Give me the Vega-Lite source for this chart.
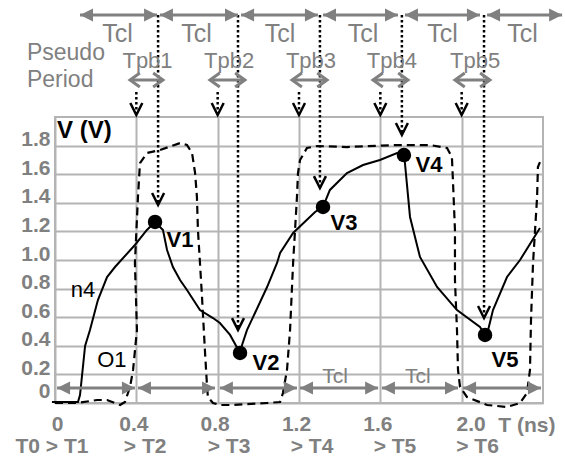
{
  "$schema": "https://vega.github.io/schema/vega-lite/v6.json",
  "width": 488,
  "height": 286,
  "autosize": {"type": "none"},
  "padding": {"left": 55, "top": 117, "right": 22, "bottom": 57},
  "background": "white",
  "config": {
    "view": {"stroke": "#b4b4b4", "strokeWidth": 2},
    "font": "Liberation Sans",
    "text": {"font": "Liberation Sans", "baseline": "alphabetic"}
  },
  "datasets": {
    "n4": [
      {"i": 1, "x": -0.015, "y": 0.007}, {"i": 2, "x": 0.113, "y": 0.007}, {"i": 3, "x": 0.123, "y": 0.056},
      {"i": 4, "x": 0.148, "y": 0.399}, {"i": 5, "x": 0.172, "y": 0.51}, {"i": 6, "x": 0.211, "y": 0.72},
      {"i": 7, "x": 0.256, "y": 0.881}, {"i": 8, "x": 0.295, "y": 0.951}, {"i": 9, "x": 0.393, "y": 1.105},
      {"i": 10, "x": 0.452, "y": 1.21}, {"i": 11, "x": 0.492, "y": 1.266}, {"i": 12, "x": 0.531, "y": 1.21},
      {"i": 13, "x": 0.551, "y": 1.07}, {"i": 14, "x": 0.58, "y": 0.951}, {"i": 15, "x": 0.615, "y": 0.86},
      {"i": 16, "x": 0.649, "y": 0.79}, {"i": 17, "x": 0.713, "y": 0.65}, {"i": 18, "x": 0.777, "y": 0.594},
      {"i": 19, "x": 0.811, "y": 0.559}, {"i": 20, "x": 0.861, "y": 0.476}, {"i": 21, "x": 0.91, "y": 0.35},
      {"i": 22, "x": 0.92, "y": 0.406}, {"i": 23, "x": 0.944, "y": 0.51}, {"i": 24, "x": 0.974, "y": 0.601},
      {"i": 25, "x": 1.043, "y": 0.811}, {"i": 26, "x": 1.092, "y": 0.979}, {"i": 27, "x": 1.107, "y": 1.049},
      {"i": 28, "x": 1.171, "y": 1.189}, {"i": 29, "x": 1.279, "y": 1.336}, {"i": 30, "x": 1.318, "y": 1.371},
      {"i": 31, "x": 1.352, "y": 1.49}, {"i": 32, "x": 1.436, "y": 1.608}, {"i": 33, "x": 1.515, "y": 1.664},
      {"i": 34, "x": 1.598, "y": 1.699}, {"i": 35, "x": 1.682, "y": 1.748}, {"i": 36, "x": 1.716, "y": 1.734},
      {"i": 37, "x": 1.721, "y": 1.678}, {"i": 38, "x": 1.746, "y": 1.301}, {"i": 39, "x": 1.795, "y": 1.021},
      {"i": 40, "x": 1.879, "y": 0.811}, {"i": 41, "x": 1.977, "y": 0.65}, {"i": 42, "x": 2.09, "y": 0.531},
      {"i": 43, "x": 2.115, "y": 0.476}, {"i": 44, "x": 2.13, "y": 0.51}, {"i": 45, "x": 2.154, "y": 0.65},
      {"i": 46, "x": 2.223, "y": 0.881}, {"i": 47, "x": 2.287, "y": 1.0}, {"i": 48, "x": 2.385, "y": 1.224}
    ],
    "o1": [
      {"i": 1, "x": 0.0, "y": 0.0}, {"i": 2, "x": 0.108, "y": 0.0}, {"i": 3, "x": 0.207, "y": 0.021},
      {"i": 4, "x": 0.256, "y": 0.021}, {"i": 5, "x": 0.32, "y": -0.014}, {"i": 6, "x": 0.344, "y": 0.007},
      {"i": 7, "x": 0.369, "y": 0.112}, {"i": 8, "x": 0.384, "y": 0.231}, {"i": 9, "x": 0.403, "y": 0.51},
      {"i": 10, "x": 0.393, "y": 0.979}, {"i": 11, "x": 0.408, "y": 1.441}, {"i": 12, "x": 0.418, "y": 1.678},
      {"i": 13, "x": 0.452, "y": 1.748}, {"i": 14, "x": 0.516, "y": 1.769}, {"i": 15, "x": 0.615, "y": 1.818},
      {"i": 16, "x": 0.649, "y": 1.804}, {"i": 17, "x": 0.674, "y": 1.748}, {"i": 18, "x": 0.689, "y": 1.608},
      {"i": 19, "x": 0.698, "y": 1.441}, {"i": 20, "x": 0.703, "y": 1.21}, {"i": 21, "x": 0.713, "y": 0.979},
      {"i": 22, "x": 0.723, "y": 0.741}, {"i": 23, "x": 0.738, "y": 0.35}, {"i": 24, "x": 0.748, "y": 0.112},
      {"i": 25, "x": 0.752, "y": 0.042}, {"i": 26, "x": 0.777, "y": 0.0}, {"i": 27, "x": 0.811, "y": -0.014},
      {"i": 28, "x": 0.875, "y": -0.014}, {"i": 29, "x": 1.043, "y": 0.0}, {"i": 30, "x": 1.107, "y": 0.007},
      {"i": 31, "x": 1.121, "y": 0.07}, {"i": 32, "x": 1.141, "y": 0.231}, {"i": 33, "x": 1.156, "y": 0.51},
      {"i": 34, "x": 1.171, "y": 0.979}, {"i": 35, "x": 1.19, "y": 1.441}, {"i": 36, "x": 1.195, "y": 1.608},
      {"i": 37, "x": 1.205, "y": 1.699}, {"i": 38, "x": 1.239, "y": 1.783}, {"i": 39, "x": 1.289, "y": 1.797},
      {"i": 40, "x": 1.436, "y": 1.79}, {"i": 41, "x": 1.682, "y": 1.804}, {"i": 42, "x": 1.844, "y": 1.804},
      {"i": 43, "x": 1.928, "y": 1.783}, {"i": 44, "x": 1.952, "y": 1.72}, {"i": 45, "x": 1.957, "y": 1.559},
      {"i": 46, "x": 1.967, "y": 1.21}, {"i": 47, "x": 1.967, "y": 0.86}, {"i": 48, "x": 1.977, "y": 0.51},
      {"i": 49, "x": 1.982, "y": 0.231}, {"i": 50, "x": 1.992, "y": 0.112}, {"i": 51, "x": 2.026, "y": 0.042},
      {"i": 52, "x": 2.125, "y": -0.014}, {"i": 53, "x": 2.223, "y": -0.028}, {"i": 54, "x": 2.287, "y": 0.0},
      {"i": 55, "x": 2.321, "y": 0.07}, {"i": 56, "x": 2.336, "y": 0.231}, {"i": 57, "x": 2.341, "y": 0.58},
      {"i": 58, "x": 2.351, "y": 0.979}, {"i": 59, "x": 2.371, "y": 1.441}, {"i": 60, "x": 2.375, "y": 1.65},
      {"i": 61, "x": 2.385, "y": 1.685}
    ],
    "peaks": [
      {"x": 0.492, "y": 1.266}, {"x": 0.91, "y": 0.35}, {"x": 1.318, "y": 1.371},
      {"x": 1.716, "y": 1.734}, {"x": 2.115, "y": 0.476}
    ],
    "tclTop": [
      {"a": 0.123, "b": 0.502, "y": 2.713}, {"a": 0.516, "b": 0.9, "y": 2.713}, {"a": 0.915, "b": 1.293, "y": 2.713},
      {"a": 1.318, "b": 1.687, "y": 2.713}, {"a": 1.721, "b": 2.09, "y": 2.713}, {"a": 2.125, "b": 2.494, "y": 2.713}
    ],
    "tclBottom": [
      {"a": 0.01, "b": 0.393, "y": 0.105}, {"a": 0.408, "b": 0.787, "y": 0.105}, {"a": 0.811, "b": 1.19, "y": 0.105},
      {"a": 1.205, "b": 1.589, "y": 0.105}, {"a": 1.608, "b": 1.982, "y": 0.105}, {"a": 2.007, "b": 2.39, "y": 0.105}
    ],
    "tpb": [
      {"a": 0.369, "b": 0.531, "y": 2.259}, {"a": 0.762, "b": 0.934, "y": 2.259}, {"a": 1.166, "b": 1.338, "y": 2.259},
      {"a": 1.564, "b": 1.736, "y": 2.259}, {"a": 1.967, "b": 2.139, "y": 2.259}
    ],
    "probe": [
      {"x": 0.507, "top": 2.713, "tip": 1.385}, {"x": 0.9, "top": 2.713, "tip": 0.51},
      {"x": 1.303, "top": 2.713, "tip": 1.503}, {"x": 1.706, "top": 2.713, "tip": 1.874},
      {"x": 2.11, "top": 2.713, "tip": 0.594}
    ],
    "pseudoMark": [
      {"x": 0.4, "top": 2.175, "tip": 2.014}, {"x": 0.8, "top": 2.175, "tip": 2.014},
      {"x": 1.2, "top": 2.175, "tip": 2.014}, {"x": 1.6, "top": 2.175, "tip": 2.014},
      {"x": 2.0, "top": 2.175, "tip": 2.014}
    ],
    "labels": [
      {"kind": "tcl", "x": 0.307, "y": 2.524, "text": "Tcl"}, {"kind": "tcl", "x": 0.696, "y": 2.524, "text": "Tcl"},
      {"kind": "tcl", "x": 1.107, "y": 2.524, "text": "Tcl"}, {"kind": "tcl", "x": 1.515, "y": 2.524, "text": "Tcl"},
      {"kind": "tcl", "x": 1.906, "y": 2.524, "text": "Tcl"}, {"kind": "tcl", "x": 2.299, "y": 2.524, "text": "Tcl"},
      {"kind": "tpb", "x": 0.455, "y": 2.343, "text": "Tpb1"}, {"kind": "tpb", "x": 0.856, "y": 2.343, "text": "Tpb2"},
      {"kind": "tpb", "x": 1.259, "y": 2.343, "text": "Tpb3"}, {"kind": "tpb", "x": 1.657, "y": 2.343, "text": "Tpb4"},
      {"kind": "tpb", "x": 2.066, "y": 2.343, "text": "Tpb5"},
      {"kind": "tclLow", "x": 1.377, "y": 0.14, "text": "Tcl"}, {"kind": "tclLow", "x": 1.785, "y": 0.14, "text": "Tcl"},
      {"kind": "pseudo", "x": -0.138, "y": 2.399, "text": "Pseudo"}, {"kind": "pseudo", "x": -0.138, "y": 2.21, "text": "Period"},
      {"kind": "curve", "x": 0.138, "y": 0.741, "text": "n4"}, {"kind": "curve", "x": 0.28, "y": 0.252, "text": "O1"},
      {"kind": "peak", "x": 0.615, "y": 1.091, "text": "V1"}, {"kind": "peak", "x": 1.038, "y": 0.231, "text": "V2"},
      {"kind": "peak", "x": 1.421, "y": 1.21, "text": "V3"}, {"kind": "peak", "x": 1.839, "y": 1.615, "text": "V4"},
      {"kind": "peak", "x": 2.213, "y": 0.252, "text": "V5"},
      {"kind": "title", "x": 0.01, "y": 1.853, "text": "V (V)"},
      {"kind": "xlab", "x": -0.015, "y": -0.35, "text": "T0 > T1"}, {"kind": "xlab", "x": 0.443, "y": -0.35, "text": "> T2"},
      {"kind": "xlab", "x": 0.856, "y": -0.35, "text": "> T3"}, {"kind": "xlab", "x": 1.264, "y": -0.35, "text": "> T4"},
      {"kind": "xlab", "x": 1.672, "y": -0.35, "text": "> T5"}, {"kind": "xlab", "x": 2.078, "y": -0.35, "text": "> T6"},
      {"kind": "xlab", "x": 2.321, "y": -0.203, "text": "T (ns)"}
    ]
  },
  "layer": [
    {
      "data": {"name": "o1"},
      "mark": {"type": "line", "color": "black", "strokeWidth": 2.2, "strokeDash": [8, 5], "clip": false, "interpolate": "linear"},
      "encoding": {
        "x": {"field": "x", "type": "quantitative",
          "scale": {"domain": [0, 2.4], "nice": false, "zero": false},
          "axis": {"values": [0, 0.4, 0.8, 1.2, 1.6, 2.0], "title": null, "grid": true, "gridColor": "#b4b4b4", "gridWidth": 2,
            "domain": false, "ticks": false, "labelPadding": 10, "labelFont": "Liberation Sans", "labelFontSize": 21,
            "labelFontWeight": "bold", "labelColor": "#808080", "labelFlush": false, "labelOverlap": false,
            "labelExpr": "datum.value == 0 ? '0' : format(datum.value, '.1f')",
            "labelOffset": {"condition": [{"test": "datum.value == 0", "value": 2}, {"test": "datum.value == 2", "value": 9}], "value": -3}}},
        "y": {"field": "y", "type": "quantitative",
          "scale": {"domain": [0, 2.0], "nice": false, "zero": false}},
        "order": {"field": "i", "type": "quantitative"}
      }
    },
    {
      "data": {"name": "n4"},
      "mark": {"type": "line", "color": "black", "strokeWidth": 2, "clip": false},
      "encoding": {
        "x": {"field": "x", "type": "quantitative"},
        "y": {"field": "y", "type": "quantitative",
          "axis": {"values": [0, 0.2, 0.4, 0.6, 0.8, 1, 1.2, 1.4, 1.6, 1.8], "tickCount": 10, "title": null, "grid": true, "gridColor": "#b4b4b4", "gridWidth": 2,
            "domain": false, "ticks": false, "labelPadding": 5, "labelFont": "Liberation Sans", "labelFontSize": 21,
            "labelFontWeight": "bold", "labelColor": "#808080", "labelFlush": false, "labelOverlap": false,
            "labelExpr": "datum.value == 0 ? '0' : format(datum.value, '.1f')",
            "labelOffset": -6,
            "labelBaseline": {"condition": {"test": "datum.value == 0", "value": "alphabetic"}, "value": "middle"}}},
        "order": {"field": "i", "type": "quantitative"}
      }
    },
    {
      "data": {"name": "probe"},
      "mark": {"type": "rule", "color": "black", "strokeWidth": 2.5, "strokeDash": [2.5, 2.5], "clip": false},
      "encoding": {
        "x": {"field": "x", "type": "quantitative"},
        "y": {"field": "top", "type": "quantitative"},
        "y2": {"field": "tip"}
      }
    },
    {
      "data": {"name": "probe"},
      "mark": {"type": "point", "shape": "M-1,-2L0,0L1,-2", "filled": false, "color": "black", "strokeWidth": 2.5, "size": 144, "opacity": 1, "clip": false},
      "encoding": {
        "x": {"field": "x", "type": "quantitative"},
        "y": {"field": "tip", "type": "quantitative"}
      }
    },
    {
      "data": {"name": "pseudoMark"},
      "mark": {"type": "rule", "color": "black", "strokeWidth": 2.5, "strokeDash": [2.5, 2.5], "clip": false},
      "encoding": {
        "x": {"field": "x", "type": "quantitative"},
        "y": {"field": "top", "type": "quantitative"},
        "y2": {"field": "tip"}
      }
    },
    {
      "data": {"name": "pseudoMark"},
      "mark": {"type": "point", "shape": "M-1,-2L0,0L1,-2", "filled": false, "color": "black", "strokeWidth": 2.5, "size": 144, "opacity": 1, "clip": false},
      "encoding": {
        "x": {"field": "x", "type": "quantitative"},
        "y": {"field": "tip", "type": "quantitative"}
      }
    },
    {
      "data": {"name": "tclTop"},
      "mark": {"type": "rule", "color": "#808080", "strokeWidth": 3, "clip": false},
      "encoding": {
        "x": {"field": "a", "type": "quantitative"},
        "x2": {"field": "b"},
        "y": {"field": "y", "type": "quantitative"}
      }
    },
    {
      "data": {"name": "tclTop"},
      "mark": {"type": "point", "shape": "M0,0L1,-0.5L1,0.5Z", "filled": true, "color": "#808080", "size": 676, "opacity": 1, "clip": false},
      "encoding": {
        "x": {"field": "a", "type": "quantitative"},
        "y": {"field": "y", "type": "quantitative"}
      }
    },
    {
      "data": {"name": "tclTop"},
      "mark": {"type": "point", "shape": "M0,0L-1,-0.5L-1,0.5Z", "filled": true, "color": "#808080", "size": 676, "opacity": 1, "clip": false},
      "encoding": {
        "x": {"field": "b", "type": "quantitative"},
        "y": {"field": "y", "type": "quantitative"}
      }
    },
    {
      "data": {"name": "tclBottom"},
      "mark": {"type": "rule", "color": "#808080", "strokeWidth": 3, "clip": false},
      "encoding": {
        "x": {"field": "a", "type": "quantitative"},
        "x2": {"field": "b"},
        "y": {"field": "y", "type": "quantitative"}
      }
    },
    {
      "data": {"name": "tclBottom"},
      "mark": {"type": "point", "shape": "M0,0L1,-0.5L1,0.5Z", "filled": true, "color": "#808080", "size": 676, "opacity": 1, "clip": false},
      "encoding": {
        "x": {"field": "a", "type": "quantitative"},
        "y": {"field": "y", "type": "quantitative"}
      }
    },
    {
      "data": {"name": "tclBottom"},
      "mark": {"type": "point", "shape": "M0,0L-1,-0.5L-1,0.5Z", "filled": true, "color": "#808080", "size": 676, "opacity": 1, "clip": false},
      "encoding": {
        "x": {"field": "b", "type": "quantitative"},
        "y": {"field": "y", "type": "quantitative"}
      }
    },
    {
      "data": {"name": "tpb"},
      "mark": {"type": "rule", "color": "#808080", "strokeWidth": 3, "clip": false},
      "encoding": {
        "x": {"field": "a", "type": "quantitative"},
        "x2": {"field": "b"},
        "y": {"field": "y", "type": "quantitative"}
      }
    },
    {
      "data": {"name": "tpb"},
      "mark": {"type": "point", "shape": "M1.4,-1L0,0L1.4,1", "filled": false, "color": "#808080", "strokeWidth": 3, "size": 196, "opacity": 1, "clip": false},
      "encoding": {
        "x": {"field": "a", "type": "quantitative"},
        "y": {"field": "y", "type": "quantitative"}
      }
    },
    {
      "data": {"name": "tpb"},
      "mark": {"type": "point", "shape": "M-1.4,-1L0,0L-1.4,1", "filled": false, "color": "#808080", "strokeWidth": 3, "size": 196, "opacity": 1, "clip": false},
      "encoding": {
        "x": {"field": "b", "type": "quantitative"},
        "y": {"field": "y", "type": "quantitative"}
      }
    },
    {
      "data": {"name": "peaks"},
      "mark": {"type": "circle", "color": "black", "size": 210, "opacity": 1, "clip": false},
      "encoding": {
        "x": {"field": "x", "type": "quantitative"},
        "y": {"field": "y", "type": "quantitative"}
      }
    },
    {
      "data": {"name": "labels"},
      "transform": [{"filter": "datum.kind == 'tcl'"}],
      "mark": {"type": "text", "color": "#808080", "fontSize": 25, "align": "center", "clip": false},
      "encoding": {
        "x": {"field": "x", "type": "quantitative"},
        "y": {"field": "y", "type": "quantitative"},
        "text": {"field": "text"}
      }
    },
    {
      "data": {"name": "labels"},
      "transform": [{"filter": "datum.kind == 'tpb'"}],
      "mark": {"type": "text", "color": "#808080", "fontSize": 22, "align": "center", "clip": false},
      "encoding": {
        "x": {"field": "x", "type": "quantitative"},
        "y": {"field": "y", "type": "quantitative"},
        "text": {"field": "text"}
      }
    },
    {
      "data": {"name": "labels"},
      "transform": [{"filter": "datum.kind == 'tclLow'"}],
      "mark": {"type": "text", "color": "#808080", "fontSize": 21, "align": "center", "clip": false},
      "encoding": {
        "x": {"field": "x", "type": "quantitative"},
        "y": {"field": "y", "type": "quantitative"},
        "text": {"field": "text"}
      }
    },
    {
      "data": {"name": "labels"},
      "transform": [{"filter": "datum.kind == 'pseudo'"}],
      "mark": {"type": "text", "color": "#808080", "fontSize": 23, "align": "left", "clip": false},
      "encoding": {
        "x": {"field": "x", "type": "quantitative"},
        "y": {"field": "y", "type": "quantitative"},
        "text": {"field": "text"}
      }
    },
    {
      "data": {"name": "labels"},
      "transform": [{"filter": "datum.kind == 'curve'"}],
      "mark": {"type": "text", "color": "black", "fontSize": 22, "align": "center", "clip": false},
      "encoding": {
        "x": {"field": "x", "type": "quantitative"},
        "y": {"field": "y", "type": "quantitative"},
        "text": {"field": "text"}
      }
    },
    {
      "data": {"name": "labels"},
      "transform": [{"filter": "datum.kind == 'peak'"}],
      "mark": {"type": "text", "color": "black", "fontSize": 22, "fontWeight": "bold", "align": "center", "clip": false},
      "encoding": {
        "x": {"field": "x", "type": "quantitative"},
        "y": {"field": "y", "type": "quantitative"},
        "text": {"field": "text"}
      }
    },
    {
      "data": {"name": "labels"},
      "transform": [{"filter": "datum.kind == 'title'"}],
      "mark": {"type": "text", "color": "black", "fontSize": 24, "fontWeight": "bold", "align": "left", "clip": false},
      "encoding": {
        "x": {"field": "x", "type": "quantitative"},
        "y": {"field": "y", "type": "quantitative"},
        "text": {"field": "text"}
      }
    },
    {
      "data": {"name": "labels"},
      "transform": [{"filter": "datum.kind == 'xlab'"}],
      "mark": {"type": "text", "color": "#808080", "fontSize": 21, "fontWeight": "bold", "align": "center", "clip": false},
      "encoding": {
        "x": {"field": "x", "type": "quantitative"},
        "y": {"field": "y", "type": "quantitative"},
        "text": {"field": "text"}
      }
    }
  ]
}
